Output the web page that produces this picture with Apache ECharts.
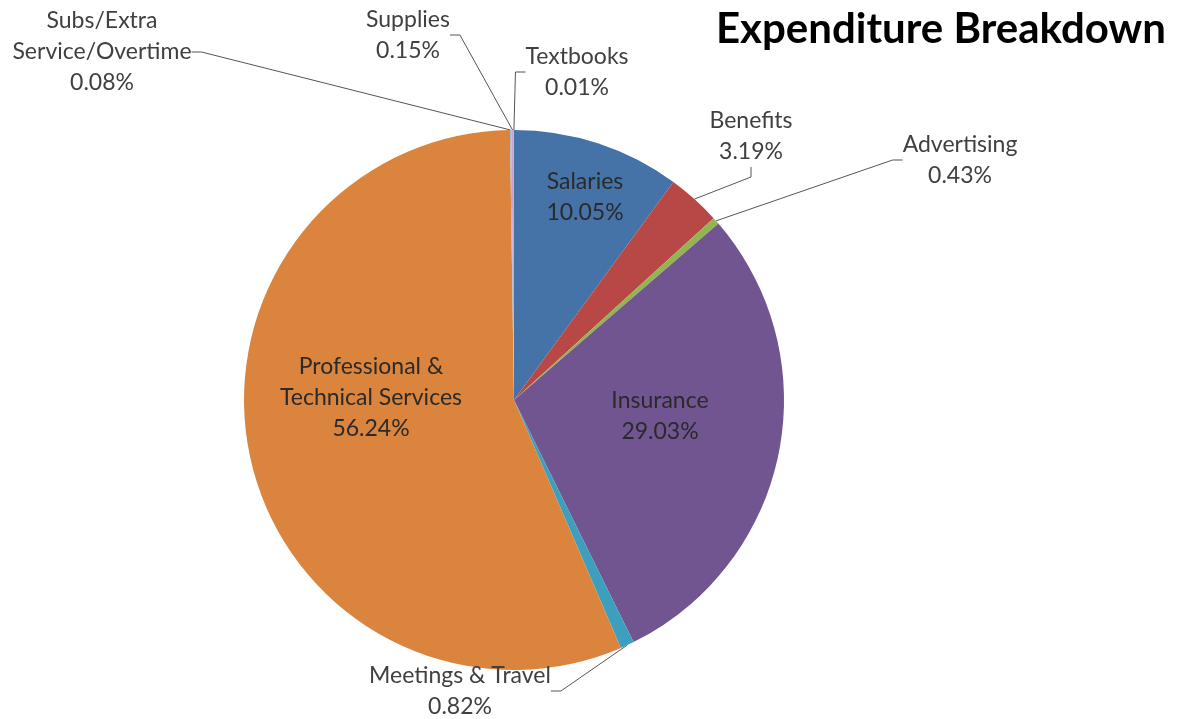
<!DOCTYPE html>
<html><head><meta charset="utf-8">
<script src="https://cdn.jsdelivr.net/npm/echarts@6/dist/echarts.min.js"></script>
<style>html,body{margin:0;padding:0;background:#fff}#c{width:1186px;height:719px}</style>
</head><body><div id="c"></div>
<script>
const categories = ['Salaries','Benefits','Advertising','Insurance','Meetings & Travel','Professional &\nTechnical Services','Subs/Extra\nService/Overtime','Supplies','Textbooks'];
const values = [10.05, 3.19, 0.43, 29.03, 0.82, 56.24, 0.08, 0.15, 0.01];
const percentLabels = ['10.05%','3.19%','0.43%','29.03%','0.82%','56.24%','0.08%','0.15%','0.01%'];
const colors = ['#4572A7','#B84845','#93B54F','#715591','#3D9FBE','#DB843D','#9DB6D6','#C7A3CE','#D9A6B8'];
const outside = [false,true,true,false,true,false,true,true,true];
// label centre positions (layout only)
const labelPos = [[585,197],[751,136],[960,160],[660,416],[460,691],[371,398],[102,52],[408,35],[577,72]];

const chart = echarts.init(document.getElementById('c'), null, {renderer:'canvas'});
chart.setOption({
  animation:false,
  title:{text:'Expenditure Breakdown', right:15, top:3,
    textStyle:{fontFamily:'Lato', fontWeight:'bold', fontSize:42, color:'#000'}},
  series:[{
    type:'pie', center:[514,400], radius:[0,270], startAngle:90, clockwise:true,
    avoidLabelOverlap:false,
    itemStyle:{borderWidth:0},
    label:{fontFamily:'Lato', fontSize:23, lineHeight:31, color:'#404040',
      formatter:p=>categories[p.dataIndex]+'\n'+percentLabels[p.dataIndex]},
    labelLine:{show:true, length:20, length2:10, lineStyle:{color:'#555', width:1}},
    labelLayout:p=>({x:labelPos[p.dataIndex][0], y:labelPos[p.dataIndex][1], align:'center', verticalAlign:'middle'}),
    data: categories.map((c,i)=>({name:c, value:values[i],
      itemStyle:{color:colors[i]},
      label:{position: outside[i]?'outside':'inside', color: outside[i]?'#404040':'#2a2a2a'},
      labelLine:{show: outside[i]}}))
  }]
});
</script></body></html>
